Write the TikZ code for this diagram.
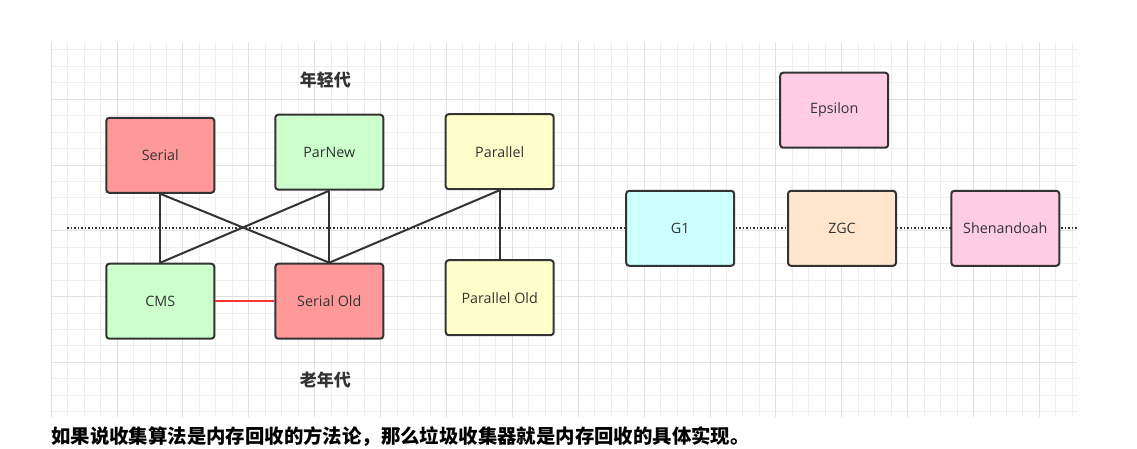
\documentclass[tikz,border=0pt]{standalone}
\usepackage{fontspec}
\setmainfont{Open Sans}
\newfontfamily\cjk{Noto Sans CJK SC}
\usetikzlibrary{positioning}

\definecolor{edge}{HTML}{333333}
\definecolor{gridminor}{HTML}{EEEEEE}
\definecolor{gridmajor}{HTML}{E0E0E0}
\definecolor{redfill}{HTML}{FF9999}
\definecolor{greenfill}{HTML}{CCFFCC}
\definecolor{yellowfill}{HTML}{FFFFCC}
\definecolor{cyanfill}{HTML}{CCFFFF}
\definecolor{orangefill}{HTML}{FFE6CC}
\definecolor{pinkfill}{HTML}{FFCCE6}
\definecolor{redline}{HTML}{FF3333}

\begin{document}
\begin{tikzpicture}[x=1pt,y=-1pt,
  gcbox/.style={draw=edge,line width=2pt,rounded corners=3pt,minimum width=108pt,
    minimum height=75pt,inner sep=0pt,text=edge,font=\fontsize{14.3}{16}\selectfont},
  link/.style={draw=edge,line width=2pt},
  genlabel/.style={text=edge,font=\cjk\bfseries\fontsize{17}{19}\selectfont}]
\useasboundingbox [fill=white] (0,0) rectangle (1137,449);
% grid
\foreach \k in {0,...,62}
  \draw[gridminor,line width=1pt] ({51.2+\k*16.47},42) -- ({51.2+\k*16.47},417);
\foreach \k in {0,...,22}
  \draw[gridminor,line width=1pt] (52,{50+\k*16.44}) -- (1077,{50+\k*16.44});
\foreach \k in {0,4,...,60}
  \draw[gridmajor,line width=1pt] ({51.2+\k*16.47},42) -- ({51.2+\k*16.47},417);
\foreach \k in {3,7,...,19}
  \draw[gridmajor,line width=1pt] (52,{50+\k*16.44}) -- (1077,{50+\k*16.44});

% dotted divider
\coordinate (divleft) at (67,228);
\coordinate (divright) at (1078,228);
\draw[edge,line width=1.5pt,dotted] (divleft) -- (divright);

% young generation
\node[gcbox,fill=redfill]    (serial)   at (160.3,155.3) {Serial};
\node[gcbox,fill=greenfill]  (parnew)   at (329.3,152.2) {ParNew};
\node[gcbox,fill=yellowfill] (parallel) at (499.7,151.7) {Parallel};
% old generation
\node[gcbox,fill=greenfill]  (cms)       at (160.3,301.2) {CMS};
\node[gcbox,fill=redfill]    (serialold) at (329.3,301.2) {Serial Old};
\node[gcbox,fill=yellowfill] (parold)    at (499.7,297.7) {Parallel Old};
% whole heap
\node[gcbox,fill=cyanfill]   (gone)  at (680.2,228.3)  {G1};
\node[gcbox,fill=orangefill] (zgc)   at (842,228.3)    {ZGC};
\node[gcbox,fill=pinkfill]   (shen)  at (1005.3,228.3) {Shenandoah};
\node[gcbox,fill=pinkfill]   (eps)   at (834.2,110.2)  {Epsilon};

\node[genlabel] (young) at (325.3,80)  {年轻代};
\node[genlabel] (old)   at (325.3,380) {老年代};

% combinations
\draw[link] (serial.south) -- (cms.north);
\draw[link] (serial.south) -- (serialold.north);
\draw[link] (parnew.south) -- (cms.north);
\draw[link] (parnew.south) -- (serialold.north);
\draw[link] (parallel.south) -- (serialold.north);
\draw[link] (parallel.south) -- (parold.north);
\draw[redline,line width=2pt] (cms.east) -- (serialold.west);

\node[anchor=west,inner sep=0pt,font=\cjk\bfseries\fontsize{19.4}{21}\selectfont] (caption) at (51,437)
  {如果说收集算法是内存回收的方法论，那么垃圾收集器就是内存回收的具体实现。};
\end{tikzpicture}
\end{document}
